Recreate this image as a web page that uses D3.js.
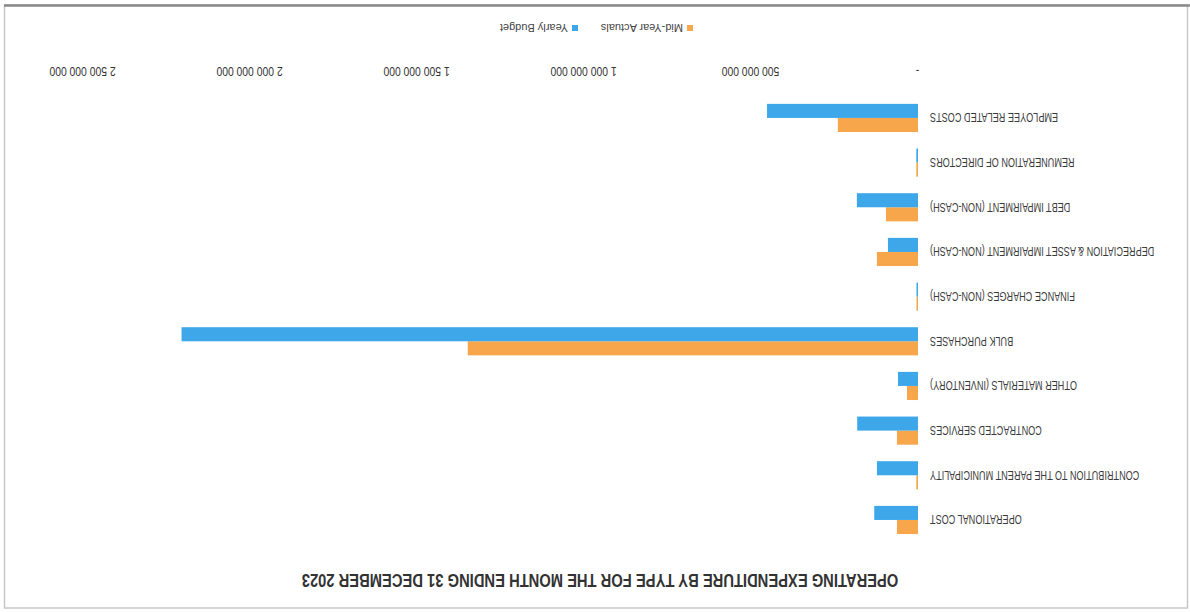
<!DOCTYPE html>
<html>
<head>
<meta charset="utf-8">
<script src="https://cdn.jsdelivr.net/npm/d3@7"></script>
<style>
  html, body { margin: 0; padding: 0; background: #fff; }
  svg { display: block; }
</style>
</head>
<body>
<svg id="chart" width="1190" height="613"></svg>
<script>
const categories = [
  "OPERATIONAL COST",
  "CONTRIBUTION TO THE PARENT MUNICIPALITY",
  "CONTRACTED SERVICES",
  "OTHER MATERIALS (INVENTORY)",
  "BULK PURCHASES",
  "FINANCE CHARGES (NON-CASH)",
  "DEPRECIATION & ASSET IMPAIRMENT (NON-CASH)",
  "DEBT IMPAIRMENT (NON-CASH)",
  "REMUNERATION OF DIRECTORS",
  "EMPLOYEE RELATED COSTS"
];
const midYearActuals = [63e6, 5e6, 63e6, 33e6, 1348e6, 4e6, 123e6, 96e6, 5e6, 240e6];
const yearlyBudget   = [131e6, 123e6, 182e6, 60e6, 2205e6, 4e6, 90e6, 183e6, 5e6, 452e6];
const seriesNames = ["Mid-Year Actuals", "Yearly Budget"];
const tickValues = [0, 500e6, 1000e6, 1500e6, 2000e6, 2500e6];
const title = "OPERATING EXPENDITURE BY TYPE FOR THE MONTH ENDING 31 DECEMBER 2023";

const colors = ["#F7A64C", "#3DA7EA"];
const W = 1190, H = 613;
const font = "'Liberation Sans', Arial, sans-serif";

const svg = d3.select("#chart");
// frame
svg.append("rect").attr("x", 4.5).attr("y", 5).attr("width", 1183).attr("height", 603)
  .attr("fill", "#fff").attr("stroke", "#c8c8c8").attr("stroke-width", 1.5);
svg.append("line").attr("x1", 4).attr("x2", 1190).attr("y1", 5.5).attr("y2", 5.5)
  .attr("stroke", "#8a8a8a").attr("stroke-width", 2.5);

// the whole scanned chart is upside down
const g = svg.append("g").attr("transform", `rotate(180 ${W/2} ${H/2})`);

const x = d3.scaleLinear().domain([0, 2500e6]).range([272, 1107]);
const y = d3.scaleBand().domain(categories).range([70.7, 517.4]).paddingInner(0.37).paddingOuter(0.185);
const ySub = d3.scaleBand().domain(seriesNames).range([0, y.bandwidth()]);

const rows = categories.map((c, i) => ({ c, vals: [midYearActuals[i], yearlyBudget[i]] }));

// bars
const grp = g.append("g").selectAll("g").data(rows).join("g")
  .attr("transform", d => `translate(0,${y(d.c)})`);
grp.selectAll("rect").data(d => d.vals.map((v, k) => ({ v, k })))
  .join("rect")
  .attr("x", x(0))
  .attr("y", d => ySub(seriesNames[d.k]))
  .attr("width", d => Math.max(1.5, x(d.v) - x(0)))
  .attr("height", ySub.bandwidth())
  .attr("fill", d => colors[d.k]);

// condensed text helper (no narrow font installed): squeeze horizontally
function condensed(sel, sx) {
  sel.each(function () {
    const t = d3.select(this);
    const px = +t.attr("x");
    t.attr("x", px / sx).attr("transform", `scale(${sx},1)`);
  });
}

// category labels
g.append("g").selectAll("text").data(categories).join("text")
  .attr("x", 260)
  .attr("y", d => y(d) + y.bandwidth() / 2)
  .attr("text-anchor", "end")
  .attr("dominant-baseline", "central")
  .attr("font-family", font)
  .attr("font-size", 12.5)
  .attr("fill", "#3a3a3a")
  .text(d => d)
  .call(condensed, 0.73);

// value axis
const fmt = v => v === 0 ? "-" : d3.format(",")(v).replace(/,/g, " ");
const axis = d3.axisBottom(x).tickValues(tickValues).tickFormat(fmt).tickSize(0).tickPadding(0);
const ax = g.append("g").attr("transform", "translate(0,537)").call(axis);
ax.select(".domain").remove();
ax.selectAll(".tick").each(function () {
  const tr = d3.select(this).attr("transform");
  const m = /translate\(([-\d.]+)/.exec(tr);
  const tx = +m[1];
  d3.select(this).attr("transform", null);
  d3.select(this).select("text").attr("x", tx).attr("y", 0).attr("dy", "0.71em");
});
ax.selectAll("text").attr("font-family", font).attr("font-size", 12.5).attr("fill", "#333")
  .call(condensed, 0.83);

// legend
const leg = g.append("g").attr("transform", "translate(497,585)");
const legX = [0, 115];
seriesNames.forEach((s, i) => {
  leg.append("rect").attr("x", legX[i]).attr("y", -3).attr("width", 6).attr("height", 6).attr("fill", colors[i]);
  leg.append("text").attr("x", legX[i] + 10).attr("y", 0)
    .attr("dominant-baseline", "central")
    .attr("font-family", font)
    .attr("font-size", 11).attr("fill", "#444").text(s);
});

// title
g.append("text").attr("x", 590).attr("y", 32)
  .attr("text-anchor", "middle").attr("dominant-baseline", "central")
  .attr("font-family", font).attr("font-weight", "bold")
  .attr("font-size", 18).attr("fill", "#333").text(title)
  .call(condensed, 0.82);
</script>
</body>
</html>
